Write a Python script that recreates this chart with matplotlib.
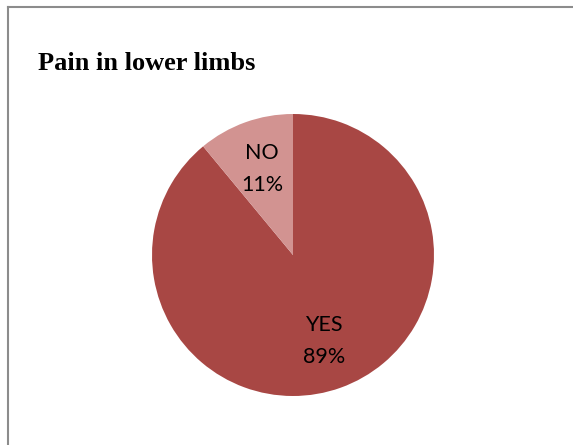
import matplotlib
matplotlib.use('Agg')
import matplotlib.pyplot as plt
from matplotlib.lines import Line2D

# data
labels = ['YES', 'NO']
values = [89, 11]
colors = ['#A84744', '#D29391']

W, H = 573, 445
fig = plt.figure(figsize=(W / 100, H / 100), dpi=100)

# frame (top and left lines only)
fig.add_artist(Line2D([7.5 / W, 1], [1 - 6.5 / H, 1 - 6.5 / H], color='#8c8c8c', lw=1.5))
fig.add_artist(Line2D([7.5 / W, 7.5 / W], [0, 1 - 6.5 / H], color='#8c8c8c', lw=1.5))

fig.text(38 / W, 1 - 70 / H, 'Pain in lower limbs', fontsize=19, fontweight='bold',
         family='Liberation Serif', ha='left', va='baseline')

cx, cy, r = 293, 255, 141
ax = fig.add_axes([(cx - r) / W, 1 - (cy + r) / H, 2 * r / W, 2 * r / H])

lbl_iter = iter(labels)
ax.pie(values, colors=colors, startangle=90, counterclock=False, radius=1,
       autopct=lambda p: '%s\n%d%%' % (next(lbl_iter), round(p)),
       pctdistance=0.65,
       textprops=dict(fontsize=15.5, family='Lato', color='black', linespacing=1.75))
ax.set_xlim(-1, 1)
ax.set_ylim(-1, 1)
ax.set_aspect('equal')
ax.axis('off')

fig.savefig('out.png', dpi=100)
